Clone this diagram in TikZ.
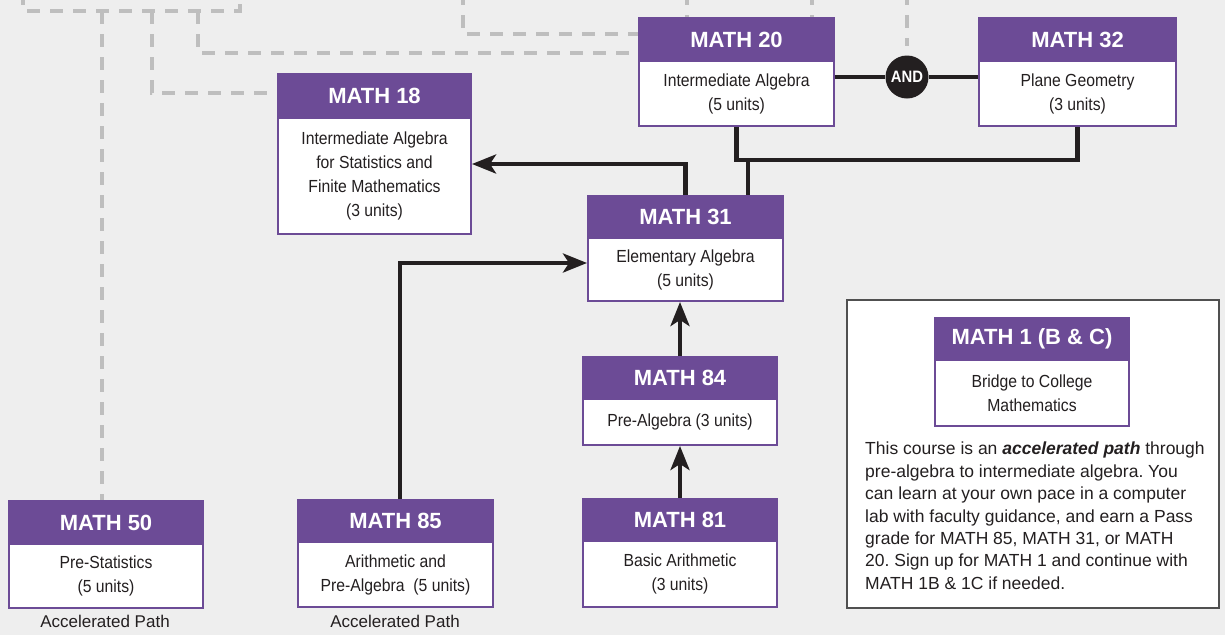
\documentclass[tikz,border=0pt]{standalone}
\usepackage{fontspec}
\setmainfont{Liberation Sans}
\newfontfamily\condfont[FakeStretch=0.9]{Liberation Sans}
\usetikzlibrary{arrows.meta}
\definecolor{bgc}{HTML}{EEEEEE}
\definecolor{purp}{HTML}{6C4B96}
\definecolor{dashc}{HTML}{BEBEBE}
\definecolor{ink}{HTML}{231F20}
\definecolor{framec}{HTML}{505050}
\pgfdeclarelayer{bg}
\pgfsetlayers{bg,main}
\frenchspacing
\newcommand\mkcourse[8]{%
  \node[hdr, minimum width=#4pt, minimum height=#5pt] (#1h) at (#2,#3) {#7};
  \node[bodybox, minimum width=#4pt, minimum height=#6pt] (#1) at (#2,#3+#5) {#8};
}
\begin{document}
\begin{tikzpicture}[x=1pt,y=-1pt,
  hdr/.style={draw=purp, fill=purp, line width=2pt, anchor=north west, inner sep=0pt,
    text=white, font=\fontsize{22}{24}\selectfont\bfseries},
  bodybox/.style={draw=purp, fill=white, line width=2pt, anchor=north west, inner sep=0pt,
    text=ink, align=center, font=\condfont\fontsize{17.5}{24}\selectfont},
  conn/.style={draw=ink, line width=4.2pt},
  arr/.style={-{Stealth[length=24pt,width=19pt,inset=6pt]}},
  dsh/.style={draw=dashc, line width=4pt, dash pattern=on 13pt off 10pt},
  andc/.style={circle, fill=ink, minimum size=43pt, inner sep=0pt, text=white,
    font=\condfont\fontsize{16.5}{16.5}\selectfont\bfseries},
  infobox/.style={draw=framec, fill=white, line width=1.6pt, anchor=north west, inner sep=0pt},
  para/.style={anchor=north west, inner sep=0pt, align=left, text=ink,
    font=\fontsize{17.5}{22.4}\selectfont},
  aplabel/.style={inner sep=0pt, text=ink, font=\fontsize{17}{20}\selectfont}]
\begin{pgfonlayer}{bg}
\fill[bgc] (0,0) rectangle (1225,635);
\end{pgfonlayer}
\clip (0,0) rectangle (1225,635);

% course boxes
\mkcourse{m20}{638}{17}{195}{43}{65}{MATH 20}{Intermediate Algebra\\(5 units)}
\mkcourse{m32}{978}{17}{197}{43}{65}{MATH 32}{Plane Geometry\\(3 units)}
\mkcourse{m18}{277}{73}{193}{44}{116}{MATH 18}{Intermediate Algebra\\for Statistics and\\Finite Mathematics\\(3 units)}
\mkcourse{m31}{587}{195}{195}{42}{63}{MATH 31}{Elementary Algebra\\(5 units)}
\mkcourse{m84}{582}{356}{194}{42}{46}{MATH 84}{Pre-Algebra (3 units)}
\mkcourse{m81}{582}{498}{194}{42}{66}{MATH 81}{Basic Arithmetic\\(3 units)}
\mkcourse{m50}{8}{500}{194}{43}{64}{MATH 50}{Pre-Statistics\\(5 units)}
\mkcourse{m85}{297}{499}{195}{42}{65}{MATH 85}{Arithmetic and\\Pre-Algebra~ (5 units)}

\node[aplabel] (ap1) at (105,621) {Accelerated Path};
\node[aplabel] (ap2) at (395,621) {Accelerated Path};

% info box
\node[infobox, minimum width=372pt, minimum height=308pt] (info) at (846,299) {};
\mkcourse{m1}{934}{317}{194}{42}{66}{MATH 1 (B \& C)}{Bridge to College\\Mathematics}
\node[para] (ptext) at (865,442) {This course is an \textbf{\textit{accelerated path}} through\\
pre-algebra to intermediate algebra. You\\
can learn at your own pace in a computer\\
lab with faculty guidance, and earn a Pass\\
grade for MATH 85, MATH 31, or MATH\\
20. Sign up for MATH 1 and continue with\\
MATH 1B \& 1C if needed.};

% AND junction
\node[andc] (and) at (907,77) {AND};
\draw[conn] (m20.east |- and) -- (and.west);
\draw[conn] (and.east) -- (m32.west |- and);

% join below MATH 20 and MATH 32
\coordinate (j) at (748,160);
\draw[conn] (m20.south) |- (m32.south |- j) -- (m32.south);
\draw[conn] (j) -- (j |- m31h.north);

% arrows
\draw[conn, arr] (m31h.north) |- ([yshift=12pt]m18.east);
\draw[conn, arr] ([xshift=4.5pt]m85h.north) |- ([yshift=6.5pt]m31.west);
\draw[conn, arr] (m84h.north) -- (m84h.north |- m31.south);
\draw[conn, arr] (m81h.north) -- (m84.south);

% dashed lines
\begin{pgfonlayer}{bg}
\coordinate (ta) at (23,-8);
\coordinate (tb) at (240,-8);
\draw[dsh] (ta) -- (23,11) -- (240,11) -- (tb);
\coordinate (c1) at (102,11);
\draw[dsh] (c1) -- (c1 |- m50h.north);
\coordinate (c2) at (152,11);
\draw[dsh] (c2) |- ([yshift=3pt]m18h.west);
\coordinate (c3) at (198,11);
\draw[dsh] (c3) |- ([yshift=-13.5pt]m20h.west);
\coordinate (c4) at (463,-8);
\draw[dsh] (c4) |- ([yshift=5.5pt]m20h.west);
\coordinate (c5) at (687,-8);
\draw[dsh] (c5) -- (c5 |- m20h.north);
\coordinate (c6) at (812,-8);
\draw[dsh] (c6) -- (c6 |- m20h.north);
\coordinate (c7) at (907,-8);
\draw[dsh] (c7) -- ([yshift=9pt]and.north);
\end{pgfonlayer}
\end{tikzpicture}
\end{document}
